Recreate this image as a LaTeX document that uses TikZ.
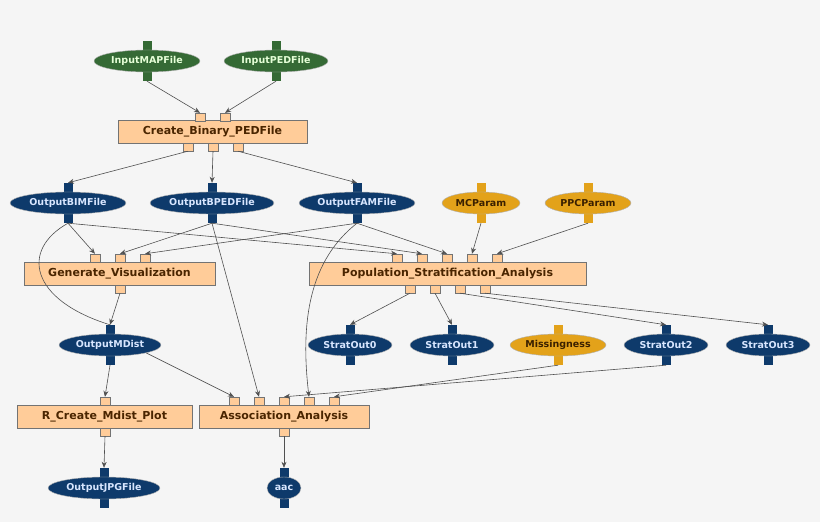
\documentclass[tikz,border=0pt]{standalone}
\usepackage{fontspec}
\setmainfont{DejaVu Sans}
\usetikzlibrary{shapes.geometric,arrows.meta}
\definecolor{bg}{HTML}{F5F5F5}
\definecolor{navy}{HTML}{0E3A6B}
\definecolor{navytxt}{HTML}{D8E6FF}
\definecolor{grn}{HTML}{356A35}
\definecolor{grntxt}{HTML}{E6FFD8}
\definecolor{org}{HTML}{E3A21A}
\definecolor{orgtxt}{HTML}{3A2000}
\definecolor{peach}{HTML}{FFCC99}
\definecolor{brown}{HTML}{4A2500}
\definecolor{edge}{HTML}{505050}
\tikzset{
 ell/.style={ellipse,inner sep=0pt,minimum height=22pt,font=\fontsize{9.5}{10}\selectfont\bfseries,draw=gray!60},
 dat/.style={ell,fill=navy,text=navytxt},
 inp/.style={ell,fill=grn,text=grntxt},
 par/.style={ell,fill=org,text=orgtxt},
 proc/.style={rectangle,draw=gray!90!black,fill=peach,text=brown,minimum height=23pt,inner sep=0pt,font=\fontsize{11}{12}\selectfont\bfseries},
 port/.style={rectangle,inner sep=0pt,minimum width=9pt,minimum height=10pt},
 pport/.style={rectangle,draw=gray!90!black,fill=peach,inner sep=0pt,minimum width=10pt,minimum height=8pt},
 arr/.style={draw=edge,line width=0.6pt,-{Stealth[length=6pt,width=5pt]}},
 ln/.style={draw=edge,line width=0.6pt}
}
\newcommand\mkdata[6]{% style,name,x,y,width,text ; ports name T/B
 \node[port,fill=#1] (#2T) at (#3,#4-15) {};
 \node[port,fill=#1] (#2B) at (#3,#4+15) {};
}
\begin{document}
\begin{tikzpicture}[x=1pt,y=-1pt]
\fill[bg] (0,0) rectangle (820,522);
% inputs
\mkdata{grn}{map}{147}{61}{}{}
\node[inp,minimum width=106pt] (map) at (147,61) {InputMAPFile};
\mkdata{grn}{ped}{276}{61}{}{}
\node[inp,minimum width=104pt] (ped) at (276,61) {InputPEDFile};
% Create_Binary
\node[proc,minimum width=189pt] (cbp) at (212.5,132) {Create\_Binary\_PEDFile};
\node[pport] (cbpI1) at (200,117) {};
\node[pport] (cbpI2) at (225,117) {};
\node[pport] (cbpO1) at (188,147) {};
\node[pport] (cbpO2) at (213,147) {};
\node[pport] (cbpO3) at (238,147) {};
% row 2 data
\mkdata{navy}{bim}{68}{203}{}{}
\node[dat,minimum width=116pt] (bim) at (68,203) {OutputBIMFile};
\mkdata{navy}{bped}{212}{203}{}{}
\node[dat,minimum width=124pt] (bped) at (212,203) {OutputBPEDFile};
\mkdata{navy}{fam}{357}{203}{}{}
\node[dat,minimum width=116pt] (fam) at (357,203) {OutputFAMFile};
\mkdata{org}{mc}{481}{203}{}{}
\node[par,minimum width=78pt] (mc) at (481,203) {MCParam};
\mkdata{org}{ppc}{588}{203}{}{}
\node[par,minimum width=86pt] (ppc) at (588,203) {PPCParam};
% Generate_Visualization
\node[proc,minimum width=191pt] (gv) at (119.5,273.5) {Generate\_Visualization};
\node[pport] (gvI1) at (95,258) {};
\node[pport] (gvI2) at (120,258) {};
\node[pport] (gvI3) at (145,258) {};
\node[pport] (gvO) at (120,289) {};
% PSA
\node[proc,minimum width=277pt] (psa) at (447.5,273.5) {Population\_Stratification\_Analysis};
\node[pport] (psaI1) at (397,258) {};
\node[pport] (psaI2) at (422,258) {};
\node[pport] (psaI3) at (447,258) {};
\node[pport] (psaI4) at (472,258) {};
\node[pport] (psaI5) at (497,258) {};
\node[pport] (psaO1) at (410,289) {};
\node[pport] (psaO2) at (435,289) {};
\node[pport] (psaO3) at (460,289) {};
\node[pport] (psaO4) at (485,289) {};
% row 3
\mkdata{navy}{md}{110}{345}{}{}
\node[dat,minimum width=102pt] (md) at (110,345) {OutputMDist};
\mkdata{navy}{s0}{350}{345}{}{}
\node[dat,minimum width=84pt] (s0) at (350,345) {StratOut0};
\mkdata{navy}{s1}{452}{345}{}{}
\node[dat,minimum width=84pt] (s1) at (452,345) {StratOut1};
\mkdata{org}{mis}{558}{345}{}{}
\node[par,minimum width=96pt] (mis) at (558,345) {Missingness};
\mkdata{navy}{s2}{666}{345}{}{}
\node[dat,minimum width=84pt] (s2) at (666,345) {StratOut2};
\mkdata{navy}{s3}{768}{345}{}{}
\node[dat,minimum width=84pt] (s3) at (768,345) {StratOut3};
% row 4
\node[proc,minimum width=175pt] (rc) at (104.5,416.5) {R\_Create\_Mdist\_Plot};
\node[pport] (rcI) at (105,401) {};
\node[pport] (rcO) at (105,432) {};
\node[proc,minimum width=170pt] (aa) at (284,416.5) {Association\_Analysis};
\node[pport] (aaI1) at (234,401) {};
\node[pport] (aaI2) at (259,401) {};
\node[pport] (aaI3) at (284,401) {};
\node[pport] (aaI4) at (309,401) {};
\node[pport] (aaI5) at (334,401) {};
\node[pport] (aaO) at (284,432) {};
% row 5
\mkdata{navy}{jpg}{104}{488}{}{}
\node[dat,minimum width=112pt] (jpg) at (104,488) {OutputJPGFile};
\mkdata{navy}{aac}{284}{488}{}{}
\node[dat,minimum width=34pt] (aac) at (284,488) {aac};
% edges
\draw[arr] (mapB.south) -- (cbpI1.north);
\draw[arr] (pedB.south) -- (cbpI2.north);
\draw[arr] (cbpO1.south) -- (bimT.north);
\draw[arr] (cbpO2.south) -- (bpedT.north);
\draw[arr] (cbpO3.south) -- (famT.north);
\draw[arr] (bimB.south) -- (gvI1.north);
\draw[arr] (bpedB.south) -- (gvI2.north);
\draw[arr] (famB.south) -- (gvI3.north);
\draw[arr] (bimB.south) -- (psaI1.north);
\draw[arr] (bpedB.south) -- (psaI2.north);
\draw[arr] (famB.south) -- (psaI3.north);
\draw[arr] (mcB.south) -- (psaI4.north);
\draw[arr] (ppcB.south) -- (psaI5.north);
\draw[arr] (gvO.south) -- (mdT.north);
\draw[ln] (bimB.south) .. controls (20,250) and (30,300) .. (mdT.north);
\draw[arr] (psaO1.south) -- (s0T.north);
\draw[arr] (psaO2.south) -- (s1T.north);
\draw[arr] (psaO3.south) -- (s2T.north);
\draw[arr] (psaO4.south) -- (s3T.north);
\draw[arr] (mdB.south) -- (rcI.north);
\draw[arr] (md.south east) -- (aaI1.north);
\draw[arr] (bpedB.south) -- (aaI2.north);
\draw[arr] (famB.south) .. controls (310,260) and (300,320) .. (aaI4.north);
\draw[arr] (misB.south) -- (aaI5.north);
\draw[arr] (s2B.south) -- (aaI3.north);
\draw[arr] (rcO.south) -- (jpgT.north);
\draw[arr] (aaO.south) -- (aacT.north);
\end{tikzpicture}
\end{document}
